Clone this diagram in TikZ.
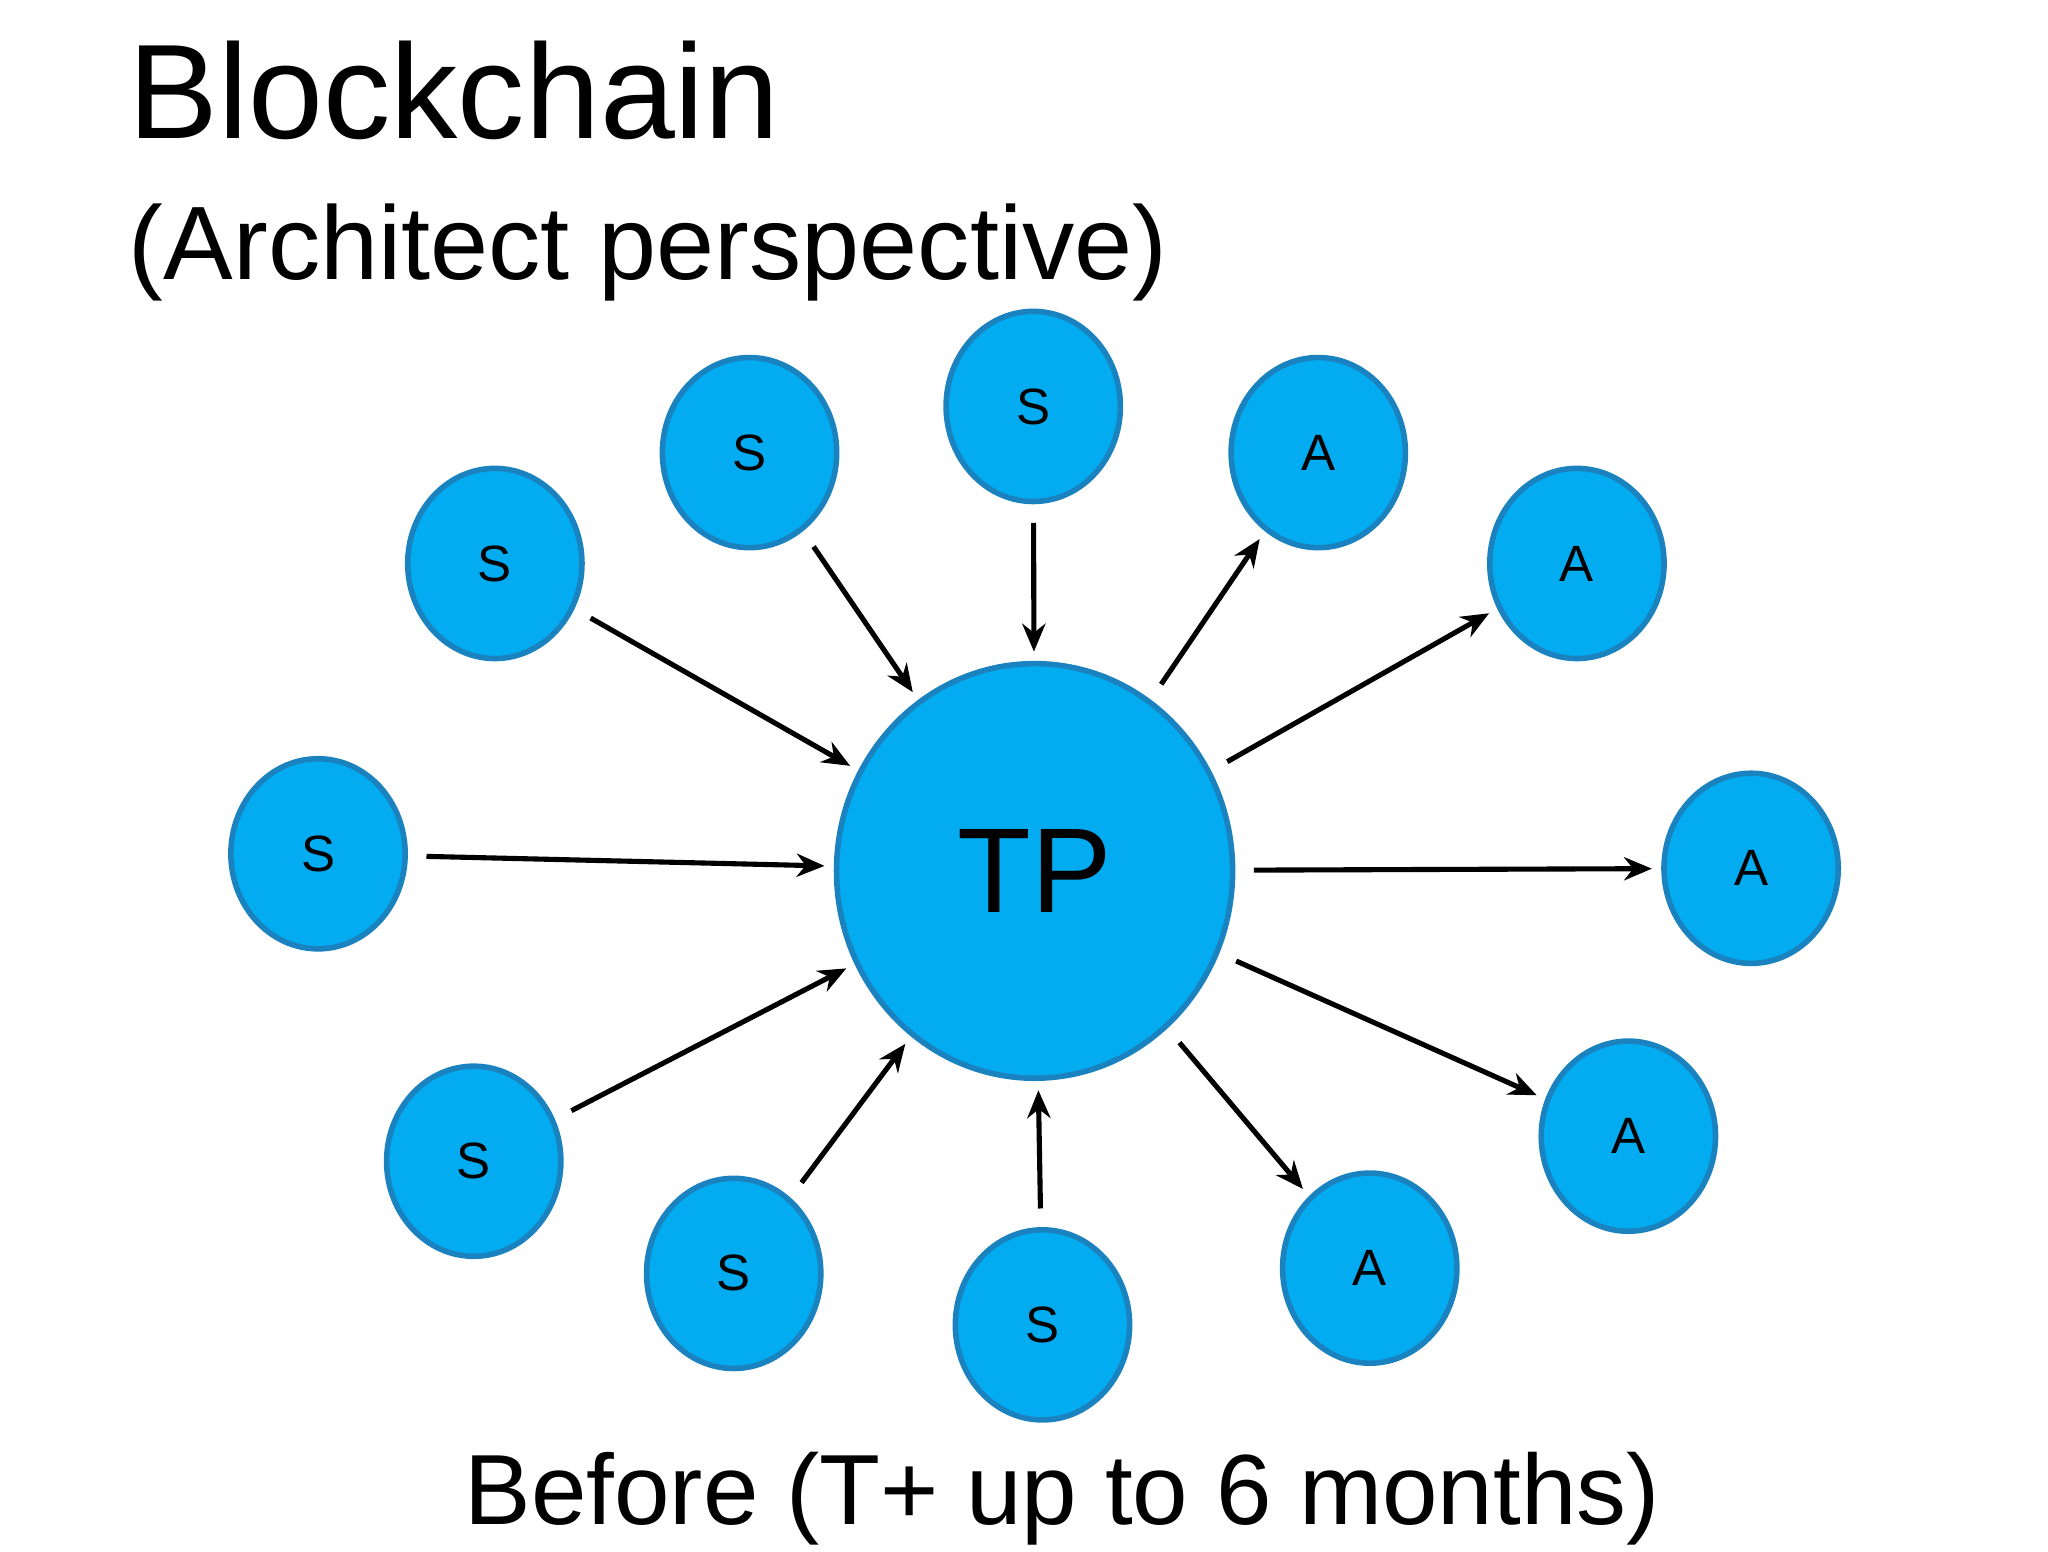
\documentclass[tikz,border=0pt]{standalone}
\usepackage{fontspec}
\setmainfont{Liberation Sans}
\usetikzlibrary{shapes.geometric,arrows.meta}
\definecolor{nfill}{HTML}{03ACF0}
\definecolor{nline}{HTML}{1B82C0}
\begin{document}
\begin{tikzpicture}[x=0.01cm,y=-0.01cm,
  sm/.style={ellipse,draw=nline,line width=1.2pt,fill=nfill,minimum width=1.32cm,minimum height=1.44cm,inner sep=0pt,font=\fontsize{11}{13}\selectfont},
  ar/.style={line width=1.1pt,-{Stealth[length=6pt,width=5pt]},shorten <=4pt,shorten >=2pt}]
\useasboundingbox (0,0) rectangle (1552,1176);
\node[anchor=base west,font=\fontsize{29}{34}\selectfont,inner sep=0pt] (t1) at (97,105) {Blockchain};
\node[anchor=base west,font=\fontsize{22.5}{27}\selectfont,inner sep=0pt] (t2) at (97,212) {(Architect perspective)};
\node[anchor=base,font=\fontsize{21.5}{26}\selectfont,inner sep=0pt] (t3) at (805,1155) {Before (T+ up to 6 months)};
\node[ellipse,draw=nline,line width=1.2pt,fill=nfill,minimum width=3.0cm,minimum height=3.14cm,inner sep=0pt,font=\fontsize{26}{30}\selectfont] (TP) at (784,660) {TP};
\node[sm] (S1) at (375,427) {S};
\node[sm] (S2) at (568,343) {S};
\node[sm] (S3) at (783,308) {S};
\node[sm] (S4) at (241,647) {S};
\node[sm] (S5) at (359,880) {S};
\node[sm] (S6) at (556,965) {S};
\node[sm] (S7) at (790,1004) {S};
\node[sm] (A1) at (999,343) {A};
\node[sm] (A2) at (1195,427) {A};
\node[sm] (A3) at (1327,658) {A};
\node[sm] (A4) at (1038,961) {A};
\node[sm] (A5) at (1234,861) {A};
\foreach \s in {S1,S2,S3,S4,S5,S6,S7} \draw[ar] (\s) -- (TP);
\foreach \a in {A1,A2,A3,A4,A5} \draw[ar] (TP) -- (\a);
\end{tikzpicture}
\end{document}
